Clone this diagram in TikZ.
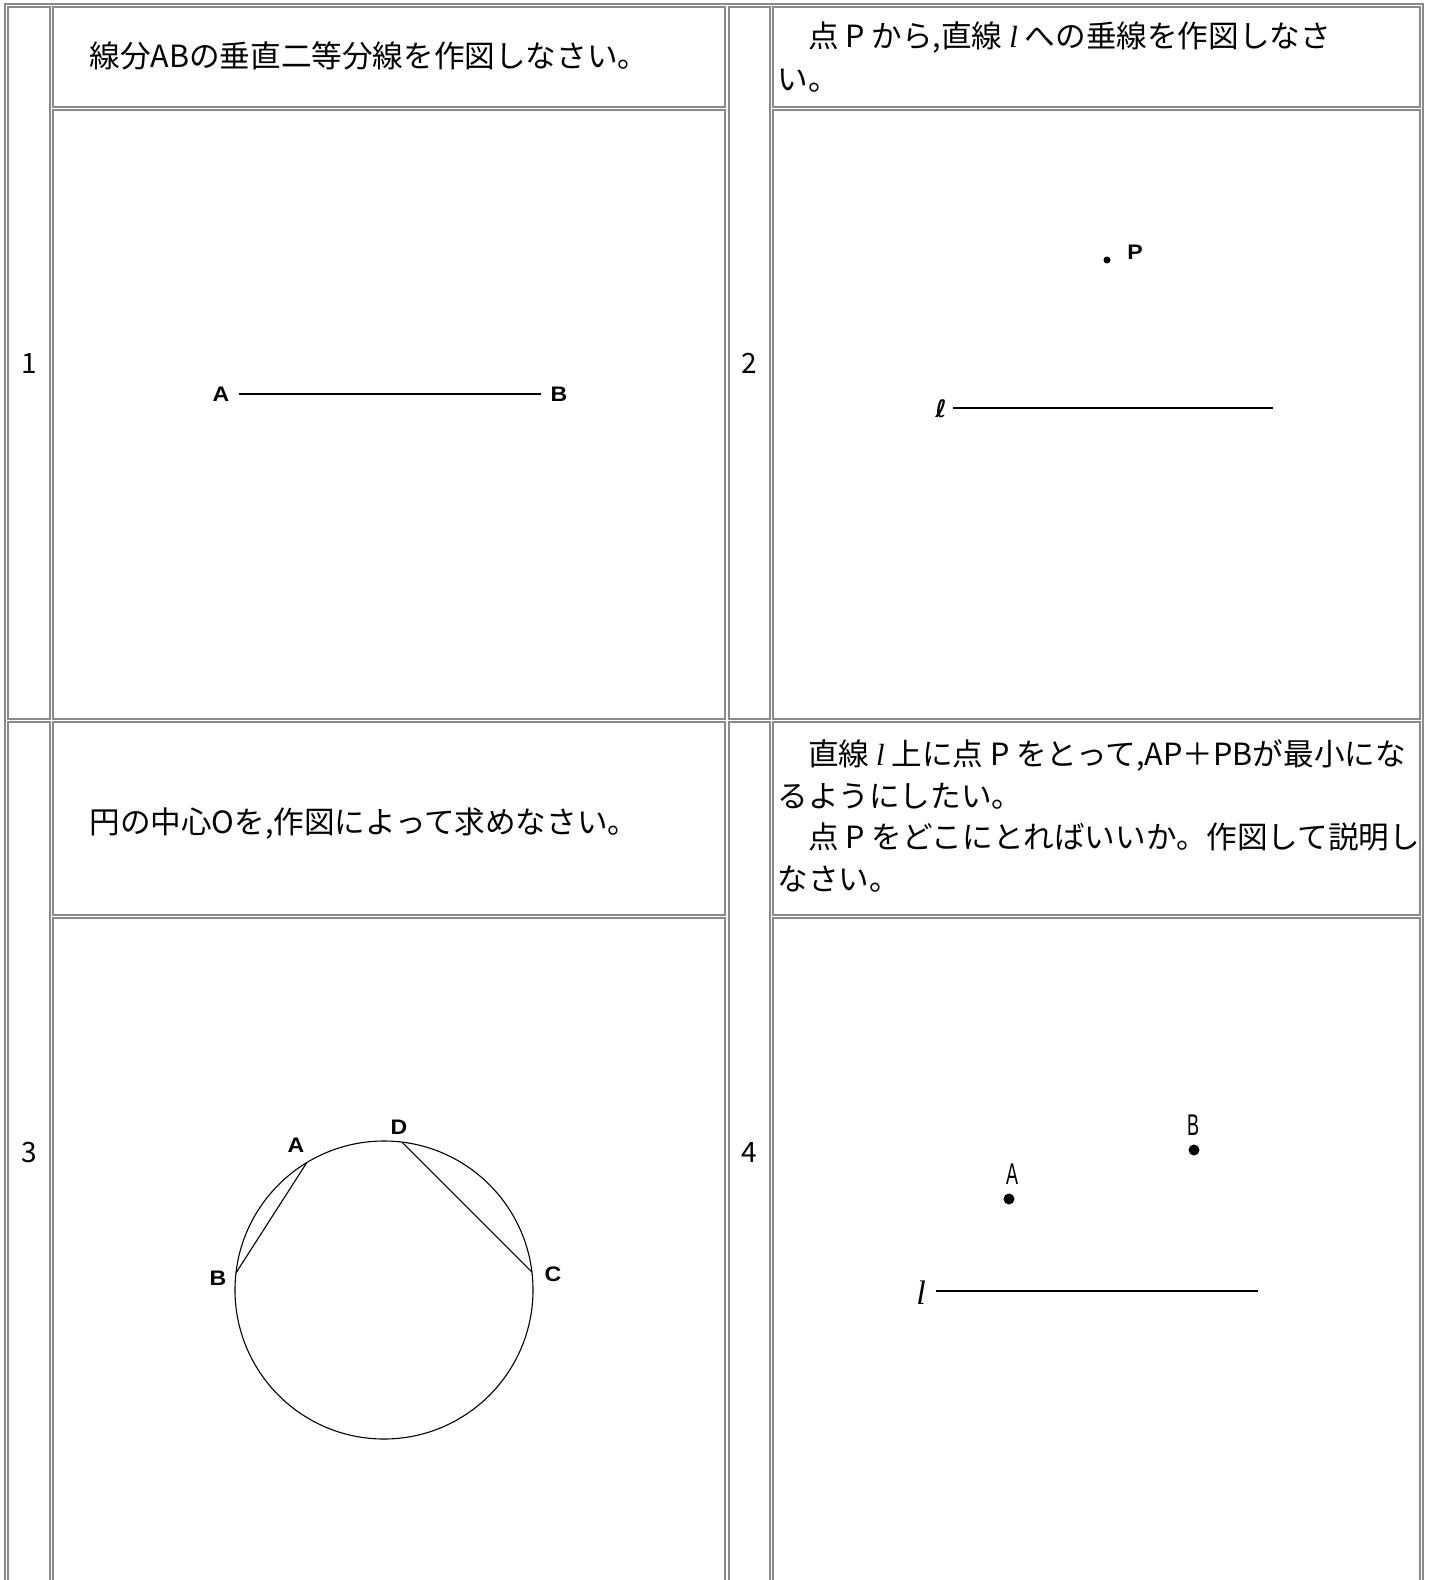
\documentclass[tikz,border=0pt]{standalone}
\usepackage{fontspec}
\setmainfont{Noto Sans CJK JP}
\newfontfamily\figfont{Liberation Sans}
\newfontfamily\seriffont{Liberation Serif}
\newfontfamily\symbfont{DejaVu Sans}
\usetikzlibrary{positioning}
\definecolor{rulegray}{RGB}{138,138,138}
\tikzset{
  cellbox/.style={draw=rulegray, line width=0.8pt},
  numlabel/.style={font=\fontsize{14}{16}\selectfont, inner sep=0pt},
  qtext/.style={font=\fontsize{15.3}{21.5}\selectfont, anchor=west, align=left, inner sep=0pt},
  ptlabel/.style={font=\figfont\bfseries\fontsize{10.5}{11}\selectfont, xscale=1.1, inner sep=4pt},
  narrowlabel/.style={font=\figfont\fontsize{15}{16}\selectfont, xscale=0.6, inner sep=0pt},
  ptdot/.style={circle, fill=black, inner sep=0pt, minimum size=#1},
  ptdot/.default=3.5pt
}
\begin{document}
\begin{tikzpicture}[x=0.5pt,y=-0.5pt]
\useasboundingbox (0,0) rectangle (1431,1580);

\draw[cellbox] (5,4) rectangle (1423,1620);
\draw[cellbox] (8,7) rectangle (50,719);
\draw[cellbox] (53,7) rectangle (725,107);
\draw[cellbox] (53,110) rectangle (725,719);
\draw[cellbox] (729,7) rectangle (770,719);
\draw[cellbox] (773,7) rectangle (1420,107);
\draw[cellbox] (773,110) rectangle (1420,719);
\draw[cellbox] (8,722) rectangle (50,1620);
\draw[cellbox] (53,722) rectangle (725,915);
\draw[cellbox] (53,918) rectangle (725,1620);
\draw[cellbox] (729,722) rectangle (770,1620);
\draw[cellbox] (773,722) rectangle (1420,915);
\draw[cellbox] (773,918) rectangle (1420,1620);

\node[numlabel] (num1) at (29,364) {1};
\node[numlabel] (num2) at (749,363) {2};
\node[numlabel] (num3) at (29,1153) {3};
\node[numlabel] (num4) at (749,1153) {4};

\node[qtext] (q1) at (89,56) {線分ABの垂直二等分線を作図しなさい。};
\node[qtext] (q2) at (777,57) {\hspace{1em}点 P から,直線 {\seriffont\itshape l} への垂線を作図しなさ\\い。};
\node[qtext] (q3) at (89,824) {円の中心Oを,作図によって求めなさい。};
\node[qtext, font=\fontsize{15.3}{20.8}\selectfont] (q4) at (777,816)
  {\hspace{1em}直線 {\seriffont\itshape l} 上に点 P をとって,AP＋PBが最小にな\\
   るようにしたい。\\
   \hspace{1em}点 P をどこにとればいいか。作図して説明し\\
   なさい。};

% 1
\node[ptlabel] (A1) at (221,394) {A};
\node[ptlabel] (B1) at (559,394) {B};
\draw[line width=0.75pt] (A1) -- (B1);

% 2
\node[ptdot] (P2) at (1107,260) {};
\node[ptlabel, inner sep=1pt] (labP2) at (1135,252) {P};
\node[font=\symbfont\bfseries\fontsize{12}{13}\selectfont, inner sep=3pt] (l2) at (941,409) {ℓ};
\coordinate (l2end) at (1273,408);
\draw[line width=0.8pt] (l2.east |- l2end) -- (l2end);

% 3
\begin{scope}[shift={(384,1290)}]
  \draw[line width=0.55pt] (0,0) circle (149);
  \coordinate (cA) at (-121.2:149);
  \coordinate (cB) at (-173.4:149);
  \coordinate (cD) at (-83.1:149);
  \coordinate (cC) at (-6.9:149);
\end{scope}
\draw[line width=0.55pt] (cA) -- (cB);
\draw[line width=0.55pt] (cD) -- (cC);
\node[ptlabel, inner sep=0pt] (labA3) at (296,1145) {A};
\node[ptlabel, inner sep=0pt] (labB3) at (218,1278) {B};
\node[ptlabel, inner sep=0pt] (labC3) at (553,1274) {C};
\node[ptlabel, inner sep=0pt] (labD3) at (399,1127) {D};

% 4
\node[ptdot=5.5pt] (A4) at (1009,1199) {};
\node[ptdot=5.5pt] (B4) at (1194,1150) {};
\node[narrowlabel] (labA4) at (1012,1174) {A};
\node[narrowlabel] (labB4) at (1193,1125) {B};
\node[font=\seriffont\itshape\fontsize{17}{18}\selectfont, inner sep=5pt] (l4) at (921,1293) {l};
\coordinate (l4end) at (1258,1291);
\draw[line width=1pt] (l4.east |- l4end) -- (l4end);
\end{tikzpicture}
\end{document}
